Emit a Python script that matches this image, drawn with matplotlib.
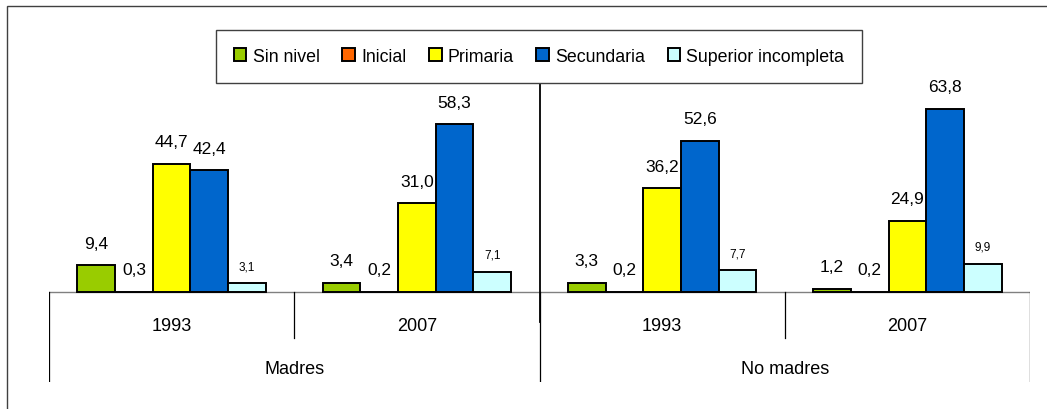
import matplotlib
matplotlib.use("Agg")
import matplotlib.pyplot as plt
from matplotlib.patches import Patch, Rectangle
import numpy as np

plt.rcParams['font.family'] = ['Liberation Sans', 'DejaVu Sans']

# datos
anios = ['1993', '2007', '1993', '2007']
grupos = ['Madres', 'No madres']
series = ['Sin nivel', 'Inicial', 'Primaria', 'Secundaria', 'Superior incompleta']
sin_nivel = [9.4, 3.4, 3.3, 1.2]
inicial = [0.3, 0.2, 0.2, 0.2]
primaria = [44.7, 31.0, 36.2, 24.9]
secundaria = [42.4, 58.3, 52.6, 63.8]
superior_inc = [3.1, 7.1, 7.7, 9.9]
colores = ['#99CC00', '#FF6600', '#FFFF00', '#0066CC', '#CCFFFF']

valores = [sin_nivel, inicial, primaria, secundaria, superior_inc]

fig = plt.figure(figsize=(10.47, 4.10), dpi=100)
W, H = 1047, 410
ax = fig.add_axes([49 / W, 1 - 383 / H, (1030 - 49) / W, (383 - 84) / H])
ax.set_xlim(-0.5, 3.5)
ax.set_ylim(-31.1, 72.7)
ax.axis('off')

# marco exterior (cortado a la derecha y abajo)
fig.patches.append(Rectangle((7 / W, -0.05), 1.1, 1 - 7 / H + 0.05, transform=fig.transFigure,
                             fill=False, edgecolor='#404040', lw=1))

x = np.arange(len(anios))
w = 1 / 6.5
for j, (nombre, vals, c) in enumerate(zip(series, valores, colores)):
    pos = x + (j - 2) * w
    ax.bar(pos, vals, width=w, color=c, edgecolor='black', linewidth=1.4, zorder=3, label=nombre)
    for xi, v in zip(pos, vals):
        txt = f"{v:.1f}".replace('.', ',')
        if j == 4:
            ax.annotate(txt, (xi, v), xytext=(0, 17), textcoords='offset pixels',
                        ha='center', va='center', fontsize=8.5)
        else:
            ax.annotate(txt, (xi, v), xytext=(0, 22), textcoords='offset pixels',
                        ha='center', va='center', fontsize=12.5)

# eje horizontal y divisiones de categorias
ax.plot([-0.5, 3.5], [0, 0], color='#808080', lw=1, zorder=2)
ax.plot([1.5, 1.5], [72.7, -10.3], color='black', lw=1.3, zorder=4)
ax.plot([1.5, 1.5], [0, -31.1], color='black', lw=0.9, zorder=4)
for xs in [0.5, 2.5]:
    ax.plot([xs, xs], [0, -15.9], color='black', lw=0.9)
for xs in [-0.5, 3.5]:
    ax.plot([xs, xs], [0, -31.1], color='black', lw=0.9)

for xi, a in zip(x, anios):
    ax.text(xi, -11.35, a, ha='center', va='center', fontsize=13)
for k, g in enumerate(grupos):
    ax.text(0.5 + 2 * k, -26.5, g, ha='center', va='center', fontsize=13)

handles = [Patch(facecolor=c, edgecolor='black', linewidth=1.4) for c in colores]
leg = fig.legend(handles, series, loc='center', bbox_to_anchor=((217 + 861) / 2 / W, 1 - 57.5 / H),
                 ncol=5, fontsize=12.8, frameon=True, fancybox=False, framealpha=1,
                 handlelength=0.72, handleheight=0.72, handletextpad=0.34, columnspacing=1.27,
                 borderpad=1.0)
leg.get_frame().set_edgecolor('#404040')
leg.get_frame().set_linewidth(1)

fig.savefig('out.png', dpi=100)
